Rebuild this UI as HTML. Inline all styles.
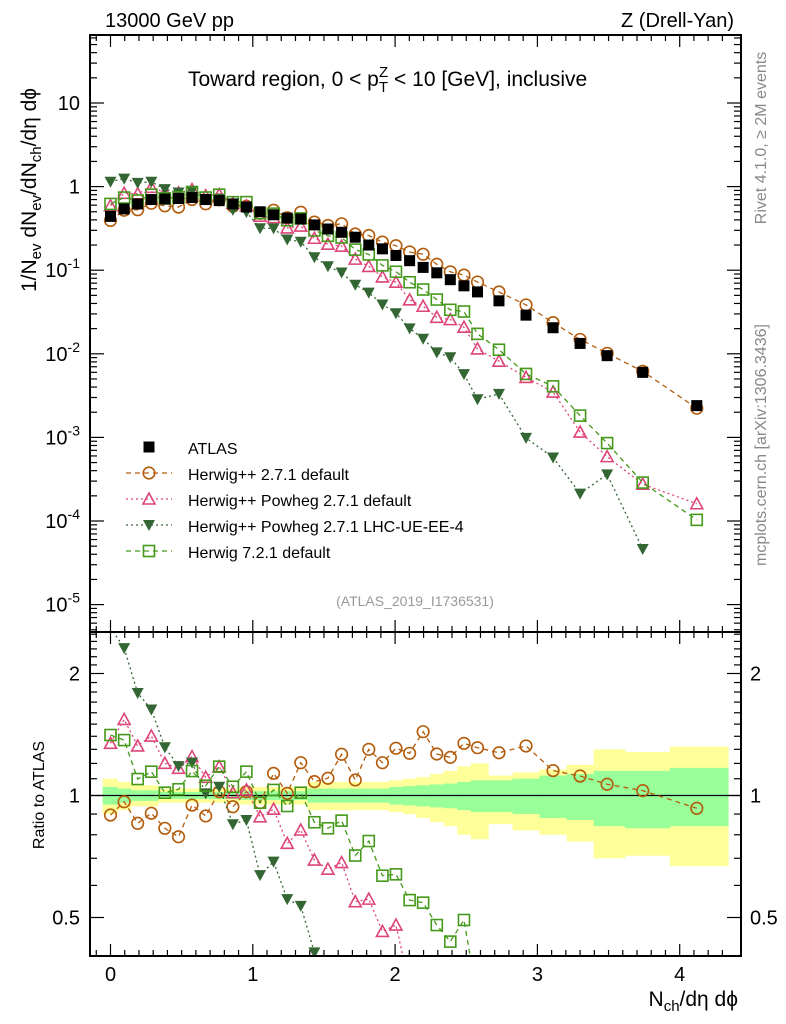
<!DOCTYPE html>
<html><head><meta charset="utf-8"><style>
html,body{margin:0;padding:0;background:#fff;width:786px;height:1024px;overflow:hidden;}
svg{display:block;font-family:"Liberation Sans",sans-serif;}
</style></head><body>
<svg id="c" width="786" height="1024" viewBox="0 0 786 1024" xmlns="http://www.w3.org/2000/svg"></svg>
<script>
const xs=[0,0.096,0.191,0.287,0.382,0.478,0.573,0.669,0.764,0.86,0.955,1.051,1.146,1.242,1.337,1.433,1.528,1.624,1.72,1.815,1.911,2.006,2.102,2.197,2.293,2.388,2.484,2.579,2.73,2.92,3.11,3.30,3.49,3.74,4.12];
const atlas=[0.44,0.54,0.62,0.70,0.71,0.72,0.74,0.70,0.68,0.62,0.57,0.50,0.46,0.42,0.41,0.348,0.311,0.284,0.248,0.20,0.18,0.15,0.13,0.108,0.093,0.077,0.065,0.055,0.043,0.029,0.0205,0.0133,0.0095,0.006,0.0024];
const rBrown=[0.895,0.965,0.854,0.904,0.830,0.791,0.947,0.890,1.022,0.938,1.022,0.960,1.134,1.012,1.205,1.082,1.103,1.264,1.092,1.300,1.205,1.308,1.271,1.437,1.266,1.242,1.345,1.312,1.275,1.325,1.152,1.117,1.066,1.028,0.930];
const rPink=[1.345,1.541,1.325,1.402,1.201,1.167,1.247,1.109,1.178,1.016,1.032,0.886,0.925,0.762,0.822,0.693,0.658,0.683,0.547,0.555,0.462,0.479,0.34,0.343,0.294,0.333,0.32,0.208,0.19,0.18,0.17,0.087,0.062,0.046,0.067];
const rDark=[2.6,2.31,1.79,1.63,1.315,1.182,1.205,1.012,1.051,0.849,0.870,0.636,0.687,0.555,0.534,0.41,0.358,0.33,0.27,0.27,0.216,0.204,0.155,0.14,0.112,0.118,0.088,0.052,0.077,0.034,0.028,0.016,0.038,0.0077,null];
const rLight=[1.41,1.37,1.098,1.145,1.016,1.036,1.149,1.057,1.178,1.051,1.145,0.960,1.032,0.942,1.016,0.859,0.830,0.867,0.711,0.772,0.634,0.639,0.552,0.544,0.479,0.436,0.493,0.315,0.26,0.198,0.199,0.137,0.09,0.048,0.043];
const gUp=[1.05,1.04,1.03,1.03,1.02,1.02,1.02,1.02,1.02,1.02,1.025,1.025,1.025,1.025,1.025,1.04,1.04,1.04,1.04,1.04,1.04,1.05,1.055,1.06,1.065,1.07,1.08,1.09,1.09,1.10,1.12,1.13,1.15,1.15,1.17];
const gDn=[0.95,0.96,0.97,0.97,0.98,0.98,0.98,0.98,0.98,0.98,0.975,0.975,0.975,0.975,0.975,0.96,0.96,0.96,0.96,0.96,0.96,0.95,0.945,0.94,0.935,0.93,0.92,0.91,0.91,0.90,0.88,0.87,0.84,0.83,0.84];
const yUp=[1.10,1.08,1.06,1.06,1.04,1.04,1.04,1.04,1.04,1.04,1.05,1.05,1.05,1.05,1.05,1.08,1.08,1.08,1.08,1.08,1.08,1.09,1.10,1.11,1.13,1.15,1.18,1.2,1.12,1.14,1.16,1.19,1.3,1.28,1.32];
const yDn=[0.90,0.92,0.94,0.94,0.96,0.96,0.96,0.96,0.96,0.96,0.95,0.95,0.95,0.95,0.95,0.92,0.92,0.92,0.92,0.92,0.92,0.91,0.90,0.88,0.86,0.84,0.80,0.78,0.85,0.82,0.80,0.77,0.70,0.71,0.67];

const NS="http://www.w3.org/2000/svg";
const svg=document.getElementById('c');
const L=90,R=741,T=35,MB=632,RB=956;
const X=v=>110.5+142.3*v;
const Y=v=>103-83.6*(Math.log10(v)-1);
const YR=r=>795.5-122*Math.log2(r);
function el(tag,attrs,parent){const e=document.createElementNS(NS,tag);for(const k in attrs)e.setAttribute(k,attrs[k]);(parent||svg).appendChild(e);return e;}
function txt(s,x,y,size,extra,parent){const t=el('text',Object.assign({x:x,y:y,'font-size':size},extra||{}),parent);t.textContent=s;return t;}

const defs=el('defs',{});
const cp1=el('clipPath',{id:'cm'},defs);el('rect',{x:L,y:T,width:R-L,height:MB-T},cp1);
const cp2=el('clipPath',{id:'cr'},defs);el('rect',{x:L,y:MB,width:R-L,height:RB-MB},cp2);

const bands=el('g',{'clip-path':'url(#cr)'});


const edges=[];
edges.push(xs[0]-0.055);
for(let i=0;i<xs.length-1;i++)edges.push((xs[i]+xs[i+1])/2);
edges.push(4.34);
for(let i=0;i<xs.length;i++){
  const x0=X(edges[i]),x1=X(edges[i+1]);
  const yb=el('rect',{x:x0,y:YR(yUp[i]),width:x1-x0+0.5,height:YR(yDn[i])-YR(yUp[i]),fill:'#ffff99'},bands);
  
  
}
for(let i=0;i<xs.length;i++){
  const x0=X(edges[i]),x1=X(edges[i+1]);
  const gb=el('rect',{x:x0,y:YR(gUp[i]),width:x1-x0+0.5,height:YR(gDn[i])-YR(gUp[i]),fill:'#99ff99'},bands);
  
  
}
el('line',{x1:L,x2:R,y1:YR(1),y2:YR(1),stroke:'#000','stroke-width':1.2});

const series=[
 {name:'herwigpp-271-default',r:rBrown,color:'#b35c0c',dash:'5,4',marker:'circle'},
 {name:'herwigpp-powheg-271-default',r:rPink,color:'#dd4477',dash:'2,3',marker:'tri'},
 {name:'herwigpp-powheg-lhc-ue-ee-4',r:rDark,color:'#336633',dash:'2,3',marker:'tridown'},
 {name:'herwig-721-default',r:rLight,color:'#44991a',dash:'5,4',marker:'square'}
];
function marker(m,x,y,color,g){
  let e;
  if(m==='circle')e=el('circle',{cx:x,cy:y,r:5.8,fill:'none',stroke:color,'stroke-width':1.6},g);
  else if(m==='tri')e=el('polygon',{points:`${x},${y-6} ${x-6},${y+5} ${x+6},${y+5}`,fill:'none',stroke:color,'stroke-width':1.6},g);
  else if(m==='tridown')e=el('polygon',{points:`${x-6},${y-5} ${x+6},${y-5} ${x},${y+6}`,fill:color},g);
  else if(m==='square')e=el('rect',{x:x-5.5,y:y-5.5,width:11,height:11,fill:'none',stroke:color,'stroke-width':1.6},g);
  else e=el('rect',{x:x-5.5,y:y-5.5,width:11,height:11,fill:'#000'},g);
  return e;
}
series.forEach(s=>{
  const gm=el('g',{'clip-path':'url(#cm)'});
  
  
  const pts=[];
  s.r.forEach((r,i)=>{if(r!==null)pts.push([X(xs[i]),Y(atlas[i]*r)]);});
  el('polyline',{points:pts.map(p=>p.join(',')).join(' '),fill:'none',stroke:s.color,'stroke-width':1.3,'stroke-dasharray':s.dash},gm);
  pts.forEach(p=>{const m=marker(s.marker,p[0],p[1],s.color,gm);
    
    });
  const gr=el('g',{'clip-path':'url(#cr)'});
  
  
  const rp=[];
  s.r.forEach((r,i)=>{if(r!==null)rp.push([X(xs[i]),YR(r)]);});
  el('polyline',{points:rp.map(p=>p.join(',')).join(' '),fill:'none',stroke:s.color,'stroke-width':1.3,'stroke-dasharray':s.dash},gr);
  rp.forEach(p=>{const m=marker(s.marker,p[0],p[1],s.color,gr);
    
    });
});
const ga=el('g',{'clip-path':'url(#cm)'});


atlas.forEach((v,i)=>{const m=marker('atlas',X(xs[i]),Y(v),'#000',ga);
  
  });

el('rect',{x:L,y:T,width:R-L,height:MB-T,fill:'none',stroke:'#000','stroke-width':2});
el('rect',{x:L,y:MB,width:R-L,height:RB-MB,fill:'none',stroke:'#000','stroke-width':2});

const tk=el('g',{stroke:'#000','stroke-width':1.2});
for(let k=-1;k<=43;k++){
  const v=k/10;const x=X(v);if(x<L+1||x>R-1)continue;
  const len=(k%10===0)?12:6;
  el('line',{x1:x,x2:x,y1:T,y2:T+len},tk);
  el('line',{x1:x,x2:x,y1:MB,y2:MB-len},tk);
  el('line',{x1:x,x2:x,y1:MB,y2:MB+len},tk);
  el('line',{x1:x,x2:x,y1:RB,y2:RB-len},tk);
}
for(let d=-6;d<=1;d++){
  for(let m=1;m<=9;m++){
    const v=m*Math.pow(10,d);const y=Y(v);if(y<T+1||y>MB-1)continue;
    const len=m===1?14:7;
    el('line',{x1:L,x2:L+len,y1:y,y2:y},tk);
    el('line',{x1:R,x2:R-len,y1:y,y2:y},tk);
  }
}
[0.4,0.5,0.6,0.7,0.8,0.9,1,1.1,1.2,1.3,1.4,1.5,1.6,1.7,1.8,1.9,2,2.1,2.2,2.3,2.4,2.5].forEach(v=>{
  const y=YR(v);if(y<MB+1||y>RB-1)return;
  const len=(v===0.5||v===1||v===2)?14:7;
  el('line',{x1:L,x2:L+len,y1:y,y2:y},tk);
  el('line',{x1:R,x2:R-len,y1:y,y2:y},tk);
});

const yl=[['10',10],['1',1]];
yl.forEach(([s,v])=>{const t=txt(s,80,Y(v)+7,20,{'text-anchor':'end'});
  });
[['10',-1],['10',-2],['10',-3],['10',-4],['10',-5]].forEach(([s,e])=>{
  const y=Y(Math.pow(10,e))+7;
  const t=txt('',80,y,20,{'text-anchor':'end'});
  
  const a=el('tspan',{},t);a.textContent='10';
  const b=el('tspan',{'font-size':14,dy:-9});b.textContent=String(e);t.appendChild(b);
});
[['0.5',0.5],['1',1],['2',2]].forEach(([s,v])=>{
  const t1=txt(s,80,YR(v)+7,20,{'text-anchor':'end'});
  
  const t2=txt(s,750,YR(v)+7,20,{'text-anchor':'start'});
  
});
[0,1,2,3,4].forEach(v=>{const t=txt(String(v),X(v),981,20,{'text-anchor':'middle'});
  });

let t;
t=txt('13000 GeV pp',105,27,20);
t=txt('Z (Drell-Yan)',734,27,20,{'text-anchor':'end'});
t=el('text',{x:188,y:86,'font-size':21});

t.innerHTML='Toward region, 0 &lt; p<tspan font-size="15" dy="6">T</tspan><tspan font-size="15" dx="-9" dy="-15">Z</tspan><tspan dy="9"> &lt; 10 [GeV], inclusive</tspan>';
t=el('text',{transform:'translate(36,292) rotate(-90)','font-size':21});

t.innerHTML='1/N<tspan font-size="15" dy="5">ev</tspan><tspan dy="-5"> dN</tspan><tspan font-size="15" dy="5">ev</tspan><tspan dy="-5">/dN</tspan><tspan font-size="15" dy="5">ch</tspan><tspan dy="-5">/dη dϕ</tspan>';
t=txt('Ratio to ATLAS',0,0,16,{transform:'translate(44,795) rotate(-90)','text-anchor':'middle'});

t=el('text',{x:738,y:1006,'font-size':21,'text-anchor':'end'});

t.innerHTML='N<tspan font-size="15" dy="5">ch</tspan><tspan dy="-5">/dη dϕ</tspan>';
t=txt('Rivet 4.1.0, ≥ 2M events',0,0,16,{transform:'translate(766,138) rotate(-90)','text-anchor':'middle',fill:'#888'});

t=txt('mcplots.cern.ch [arXiv:1306.3436]',0,0,16,{transform:'translate(766,445) rotate(-90)','text-anchor':'middle',fill:'#888'});

t=txt('(ATLAS_2019_I1736531)',415,606,14,{'text-anchor':'middle',fill:'#999'});


const leg=[['ATLAS','atlas','#000',null],['Herwig++ 2.7.1 default','circle','#b35c0c','5,4'],['Herwig++ Powheg 2.7.1 default','tri','#dd4477','2,3'],['Herwig++ Powheg 2.7.1 LHC-UE-EE-4','tridown','#336633','2,3'],['Herwig 7.2.1 default','square','#44991a','5,4']];
leg.forEach((e,i)=>{
  const y=447+26*i;
  const g=el('g',{});
  
  
  if(e[3])el('line',{x1:126,x2:172,y1:y,y2:y,stroke:e[2],'stroke-width':1.3,'stroke-dasharray':e[3]},g);
  marker(e[1],149,y,e[2],g);
  txt(e[0],188,y+7,16,{},g);
});
</script>
</body></html>
